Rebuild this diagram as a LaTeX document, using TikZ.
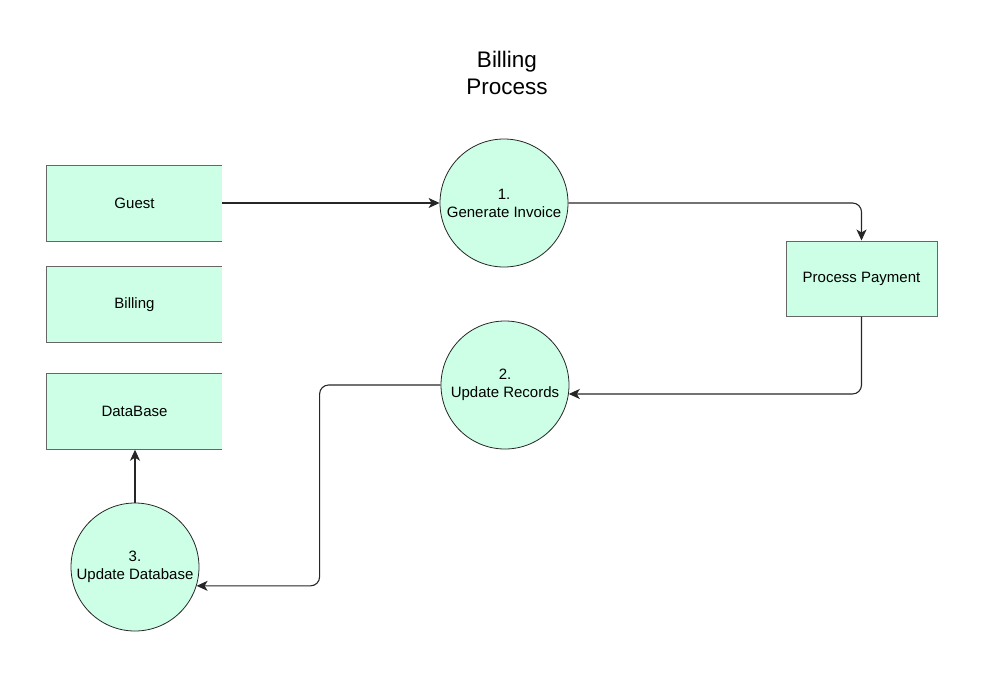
\documentclass[tikz,border=0pt]{standalone}
\usepackage{fontspec}
\setmainfont{Liberation Sans}
\usetikzlibrary{arrows.meta,calc}
\definecolor{mint}{HTML}{CCFFE6}
\begin{document}
\begin{tikzpicture}[x=1pt,y=-1pt,
  store/.style={rectangle,fill=mint,minimum width=175pt,minimum height=76pt,inner sep=0pt,font=\fontsize{15}{18}\selectfont},
  proc/.style={circle,fill=mint,draw=black!85,line width=0.8pt,minimum size=128pt,inner sep=0pt,align=center,font=\fontsize{15}{18}\selectfont},
  ent/.style={rectangle,fill=mint,draw=black!60,line width=1pt,minimum width=151pt,minimum height=75pt,inner sep=0pt,font=\fontsize{15}{18}\selectfont},
  sline/.style={draw=black!60,line width=1pt},
  arr/.style={draw=black!85,line width=1.1pt,rounded corners=9pt,-{Stealth[length=11pt,width=10pt,inset=3pt]}}]
\useasboundingbox (0,0) rectangle (1008,673);
\node[align=center,font=\fontsize{22.5}{27}\selectfont] (title) at (507,73) {Billing\\Process};
% data stores
\node[store] (g) at (134.5,203.5) {Guest};
\node[store] (b) at (134.5,304.5) {Billing};
\node[store] (db) at (134.5,411.5) {DataBase};
\foreach \n in {g,b,db}{
  \draw[sline] (\n.north east) -- (\n.north west) -- (\n.south west) -- (\n.south east);
}
% processes
\node[proc] (c1) at (504,203) {1.\\Generate Invoice};
\node[proc] (c2) at (505,385) {2.\\Update Records};
\node[proc] (c3) at (135,567) {3.\\Update Database};
\node[ent] (pp) at (861.5,278.5) {Process Payment};
% connectors
\draw[arr] (g.east |- c1.west) -- (c1.west);
\draw[arr] (c1.east) -| (pp.north);
\draw[arr] (pp.south) |- (c2.-8);
\draw[arr] (c2.west) -- ++(-121,0) |- (c3.-17);
\draw[arr] (c3.north) -- (c3.north |- db.south);
\end{tikzpicture}
\end{document}
